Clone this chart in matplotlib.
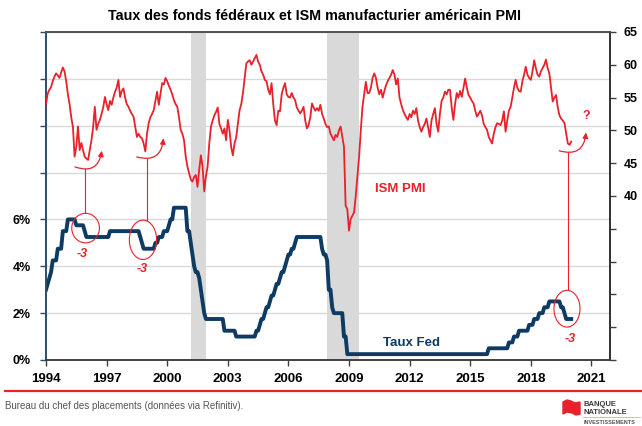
import numpy as np
from matplotlib import pyplot as plt
from matplotlib.patches import Ellipse, FancyArrowPatch, Polygon
from matplotlib.lines import Line2D

plt.rcParams['font.family'] = ['Liberation Sans', 'DejaVu Sans']

#%% # Data (monthly, Jan 1994 -> Jan 2020)

start_year = 1994

# Fed funds target rate (upper bound), %
fed = [
    3.0, 3.25, 3.5, 3.75, 4.25, 4.25, 4.25, 4.75, 4.75, 4.75, 5.5, 5.5,          # 1994
    5.5, 6.0, 6.0, 6.0, 6.0, 6.0, 5.75, 5.75, 5.75, 5.75, 5.75, 5.5,             # 1995
    5.25, 5.25, 5.25, 5.25, 5.25, 5.25, 5.25, 5.25, 5.25, 5.25, 5.25, 5.25,      # 1996
    5.25, 5.25, 5.5, 5.5, 5.5, 5.5, 5.5, 5.5, 5.5, 5.5, 5.5, 5.5,                # 1997
    5.5, 5.5, 5.5, 5.5, 5.5, 5.5, 5.5, 5.5, 5.25, 5.0, 4.75, 4.75,               # 1998
    4.75, 4.75, 4.75, 4.75, 4.75, 5.0, 5.0, 5.25, 5.25, 5.25, 5.5, 5.5,          # 1999
    5.5, 5.75, 6.0, 6.0, 6.5, 6.5, 6.5, 6.5, 6.5, 6.5, 6.5, 6.5,                 # 2000
    5.5, 5.5, 5.0, 4.5, 4.0, 3.75, 3.75, 3.5, 3.0, 2.5, 2.0, 1.75,               # 2001
    1.75, 1.75, 1.75, 1.75, 1.75, 1.75, 1.75, 1.75, 1.75, 1.75, 1.25, 1.25,      # 2002
    1.25, 1.25, 1.25, 1.25, 1.25, 1.0, 1.0, 1.0, 1.0, 1.0, 1.0, 1.0,             # 2003
    1.0, 1.0, 1.0, 1.0, 1.0, 1.25, 1.25, 1.5, 1.75, 1.75, 2.0, 2.25,             # 2004
    2.25, 2.5, 2.75, 2.75, 3.0, 3.25, 3.25, 3.5, 3.75, 3.75, 4.0, 4.25,          # 2005
    4.5, 4.5, 4.75, 4.75, 5.0, 5.25, 5.25, 5.25, 5.25, 5.25, 5.25, 5.25,         # 2006
    5.25, 5.25, 5.25, 5.25, 5.25, 5.25, 5.25, 5.25, 4.75, 4.5, 4.5, 4.25,        # 2007
    3.0, 3.0, 2.25, 2.0, 2.0, 2.0, 2.0, 2.0, 2.0, 1.0, 1.0, 0.25,                # 2008
    0.25, 0.25, 0.25, 0.25, 0.25, 0.25, 0.25, 0.25, 0.25, 0.25, 0.25, 0.25,      # 2009
    0.25, 0.25, 0.25, 0.25, 0.25, 0.25, 0.25, 0.25, 0.25, 0.25, 0.25, 0.25,      # 2010
    0.25, 0.25, 0.25, 0.25, 0.25, 0.25, 0.25, 0.25, 0.25, 0.25, 0.25, 0.25,      # 2011
    0.25, 0.25, 0.25, 0.25, 0.25, 0.25, 0.25, 0.25, 0.25, 0.25, 0.25, 0.25,      # 2012
    0.25, 0.25, 0.25, 0.25, 0.25, 0.25, 0.25, 0.25, 0.25, 0.25, 0.25, 0.25,      # 2013
    0.25, 0.25, 0.25, 0.25, 0.25, 0.25, 0.25, 0.25, 0.25, 0.25, 0.25, 0.25,      # 2014
    0.25, 0.25, 0.25, 0.25, 0.25, 0.25, 0.25, 0.25, 0.25, 0.25, 0.25, 0.5,       # 2015
    0.5, 0.5, 0.5, 0.5, 0.5, 0.5, 0.5, 0.5, 0.5, 0.5, 0.5, 0.75,                 # 2016
    0.75, 0.75, 1.0, 1.0, 1.0, 1.25, 1.25, 1.25, 1.25, 1.25, 1.25, 1.5,          # 2017
    1.5, 1.5, 1.75, 1.75, 1.75, 2.0, 2.0, 2.0, 2.25, 2.25, 2.25, 2.5,            # 2018
    2.5, 2.5, 2.5, 2.5, 2.5, 2.5, 2.25, 2.25, 2.0, 1.75, 1.75, 1.75,             # 2019
    1.75,                                                                        # 2020
]

# ISM manufacturing PMI
pmi = [
    54.0, 55.6, 56.2, 56.6, 57.5, 58.2, 58.7, 58.4, 58.0, 58.8, 59.6, 59.0,  # 1994
    57.5, 55.5, 54.0, 52.0, 50.5, 46.0, 47.5, 50.6, 47.0, 48.1, 47.0, 46.0,  # 1995
    45.7, 45.5, 47.0, 48.5, 50.5, 53.6, 50.1, 51.0, 51.6, 52.5, 53.5, 55.1,  # 1996
    54.0, 53.1, 54.5, 53.9, 55.0, 55.9, 56.5, 57.7, 55.1, 56.0, 56.4, 55.0,  # 1997
    54.0, 53.6, 53.0, 52.5, 52.1, 50.5, 49.0, 49.5, 49.0, 48.8, 48.0, 46.8,  # 1998
    49.5, 51.1, 52.0, 52.5, 53.1, 54.5, 55.9, 53.9, 55.5, 57.2, 57.0, 58.0,  # 1999
    57.5, 56.8, 56.2, 55.5, 54.6, 54.0, 53.6, 52.0, 50.1, 49.5, 48.5, 46.0,  # 2000
    44.5, 43.5, 42.5, 42.2, 42.9, 43.2, 41.4, 44.0, 46.2, 44.5, 40.7, 43.0,  # 2001
    44.5, 48.0, 50.6, 51.5, 52.3, 52.8, 53.5, 51.0, 50.3, 49.5, 50.3, 48.5,  # 2002
    51.6, 50.0, 47.5, 46.2, 48.0, 49.0, 51.0, 53.1, 54.0, 55.7, 58.0, 60.2,  # 2003
    60.5, 60.7, 60.0, 60.5, 61.0, 61.5, 60.5, 60.0, 59.0, 58.5, 57.7, 57.5,  # 2004
    56.2, 55.5, 57.2, 54.0, 51.5, 50.8, 53.0, 52.9, 55.5, 56.5, 57.2, 55.5,  # 2005
    55.1, 55.0, 55.7, 55.0, 54.6, 53.5, 53.0, 52.6, 53.0, 53.6, 51.5, 50.3,  # 2006
    50.8, 52.0, 54.1, 53.5, 53.0, 53.4, 53.0, 53.9, 52.5, 51.8, 51.0, 50.5,  # 2007
    50.6, 49.5, 49.0, 48.5, 49.3, 49.0, 50.0, 50.6, 49.0, 47.5, 38.5, 38.0,  # 2008
    34.7, 36.5, 37.0, 37.5, 40.0, 43.0, 46.0, 50.0, 53.6, 55.5, 57.4, 55.7,  # 2009
    55.7, 56.5, 58.0, 58.7, 58.0, 56.5, 55.5, 56.2, 55.0, 56.0, 56.9, 57.5,  # 2010
    58.0, 58.5, 59.2, 58.5, 57.0, 57.9, 55.0, 54.0, 53.1, 52.5, 52.0, 51.6,  # 2011
    52.5, 52.0, 53.0, 52.5, 53.4, 51.5, 50.5, 49.8, 50.5, 51.0, 51.8, 50.5,  # 2012
    49.0, 51.5, 52.5, 53.4, 51.0, 49.8, 52.5, 54.5, 55.0, 55.9, 55.5, 56.2,  # 2013
    56.2, 53.5, 51.6, 54.0, 55.7, 55.0, 56.0, 55.1, 56.5, 57.9, 56.5, 55.4,  # 2014
    55.0, 54.5, 54.1, 53.0, 52.1, 52.5, 53.0, 52.3, 51.0, 50.5, 50.1, 49.0,  # 2015
    48.5, 48.0, 49.5, 50.5, 51.1, 51.0, 50.8, 51.5, 52.9, 49.8, 51.5, 53.0,  # 2016
    53.6, 55.0, 56.5, 57.7, 56.5, 56.0, 55.9, 57.5, 58.5, 59.7, 58.5, 58.0,  # 2017
    57.7, 59.0, 60.7, 59.5, 58.5, 58.2, 59.0, 59.5, 60.0, 60.8, 59.5, 58.7,  # 2018
    56.5, 54.4, 55.0, 55.4, 53.5, 52.3, 51.8, 51.5, 51.1, 49.5, 48.0, 47.8,  # 2019
    48.3,                                                                    # 2020
]

# recessions (NBER), decimal years
recessions = [(2001.17, 2001.9), (2007.92, 2009.5)]

year_ticks = [1994, 1997, 2000, 2003, 2006, 2009, 2012, 2015, 2018, 2021]
left_ticks = [0, 2, 4, 6, 8, 10, 12, 14]
left_labels = ['0%', '2%', '4%', '6%', '', '', '', '']
right_ticks = [15, 20, 25, 30, 35, 40, 45, 50, 55, 60, 65]
right_labels = ['', '', '', '', '', '40', '45', '50', '55', '60', '65']

red = '#e8212b'
navy = '#0d3b63'
grey_grid = '#d9d9d9'

#%% # Plot

fig = plt.figure(figsize=(6.42, 4.26), dpi=100)
ax = fig.add_axes([46/642, 1 - 360/426, 564/642, 328/426])
ax2 = ax.twinx()

x_fed = start_year + np.arange(len(fed)) / 12
x_pmi = start_year + np.arange(len(pmi)) / 12

for a, b in recessions:
    ax.axvspan(a, b, color=grey_grid, lw=0, zorder=0)

ax.plot(x_fed, fed, color=navy, lw=2.8, solid_joinstyle='round', zorder=3)
ax2.plot(x_pmi, pmi, color=red, lw=1.3, zorder=3)

ax.set_xlim(1994, 2021.92)
ax.set_ylim(0, 14)
ax2.set_ylim(15, 65)

ax.set_yticks(left_ticks)
ax.set_yticklabels(left_labels, fontweight='bold', fontsize=9)
ax2.set_yticks(right_ticks)
ax2.set_yticklabels(right_labels, fontweight='bold', fontsize=9)
ax.set_xticks(year_ticks)
ax.set_xticklabels([str(y) for y in year_ticks], fontweight='bold', fontsize=9.5)

ax.yaxis.grid(True, color=grey_grid, lw=1)
ax.set_axisbelow(True)

ax.tick_params(axis='y', length=4, width=1, color='#2f4b6b', pad=7)
ax.tick_params(axis='x', length=4, width=1, color='#404040', pad=5)
ax2.tick_params(axis='y', length=4, width=1, color='#404040', pad=6)

for a in (ax, ax2):
    a.spines['top'].set_color('#505050')
    a.spines['bottom'].set_color('#404040')
    a.spines['right'].set_color('#303030')
    a.spines['left'].set_color('#2f4b6b')
    for s in a.spines.values():
        s.set_linewidth(1.2)

# Series labels
ax.text(2011.52, 7.29, 'ISM PMI', color=red, fontweight='bold', fontsize=9.5,
        ha='center', va='center')
ax.text(2012.07, 0.73, 'Taux Fed', color=navy, fontweight='bold', fontsize=9.5,
        ha='center', va='center')

# "-3" annotations: circle on fed, line up to a curved arrow under the PMI
notes = [
    # circle centre, circle size, line x, line top, arrow start, arrow end, label pos
    ((1995.96, 5.63), (1.37, 1.26), 1995.93, 8.14, (1995.44, 8.24), (1996.76, 8.93), (1995.77, 4.54)),
    ((1998.80, 5.13), (1.35, 1.68), 1998.98, 8.57, (1998.49, 8.67), (1999.81, 9.46), (1998.77, 3.89)),
    ((2019.79, 2.19), (1.29, 1.57), 2019.86, 8.86, (2019.41, 8.93), (2020.73, 9.71), (2019.97, 0.89)),
]
for (cx, cy), (w, h), lx, ltop, p0, p1, (tx, ty) in notes:
    ax.add_patch(Ellipse((cx, cy), w, h, fill=False, ec=red, lw=0.8, zorder=4))
    ax.plot([lx, lx], [cy + h / 2, ltop], color=red, lw=0.8, zorder=4)
    ax.add_patch(FancyArrowPatch(p0, p1, connectionstyle='arc3,rad=0.6',
                                 arrowstyle='-|>', mutation_scale=8,
                                 color=red, lw=0.9, shrinkA=0, shrinkB=0, zorder=4))
    ax.text(tx, ty, '-3', color=red, fontweight='bold', fontstyle='italic',
            fontsize=9, ha='center', va='center')

ax.text(2020.73, 10.43, '?', color=red, fontweight='bold', fontsize=9,
        ha='center', va='center')

# Title
fig.text(0.49, 1 - 16/426, 'Taux des fonds fédéraux et ISM manufacturier américain PMI',
         fontweight='bold', fontsize=10.3, ha='center', va='center')

# Footer
fig.add_artist(Line2D([5/642, 1.0], [1 - 391/426, 1 - 391/426], color=red, lw=1.6))
fig.text(5/642, 1 - 406/426, 'Bureau du chef des placements (données via Refinitiv).',
         color='#555555', fontsize=7, ha='left', va='center')

# Logo
flag = [(563, 402), (567, 400), (571, 401), (575, 403), (580, 402),
        (580, 414), (576, 415), (572, 413), (567, 412), (563, 414)]
fig.add_artist(Polygon([(px/642, 1 - py/426) for px, py in flag],
                       closed=True, color=red, transform=fig.transFigure))
fig.text(584/642, 1 - 404/426, 'BANQUE', color='#3a3a3a', fontweight='bold',
         fontsize=5.5, ha='left', va='center')
fig.text(584/642, 1 - 412/426, 'NATIONALE', color='#3a3a3a', fontweight='bold',
         fontsize=5.5, ha='left', va='center')
fig.add_artist(Line2D([583/642, 640/642], [1 - 417/426, 1 - 417/426],
                      color='#f0a0a0', lw=0.6))
fig.text(584/642, 1 - 423/426, 'INVESTISSEMENTS', color='#555555', fontweight='bold',
         fontsize=4, ha='left', va='center')

plt.savefig('out.png', dpi=100)
